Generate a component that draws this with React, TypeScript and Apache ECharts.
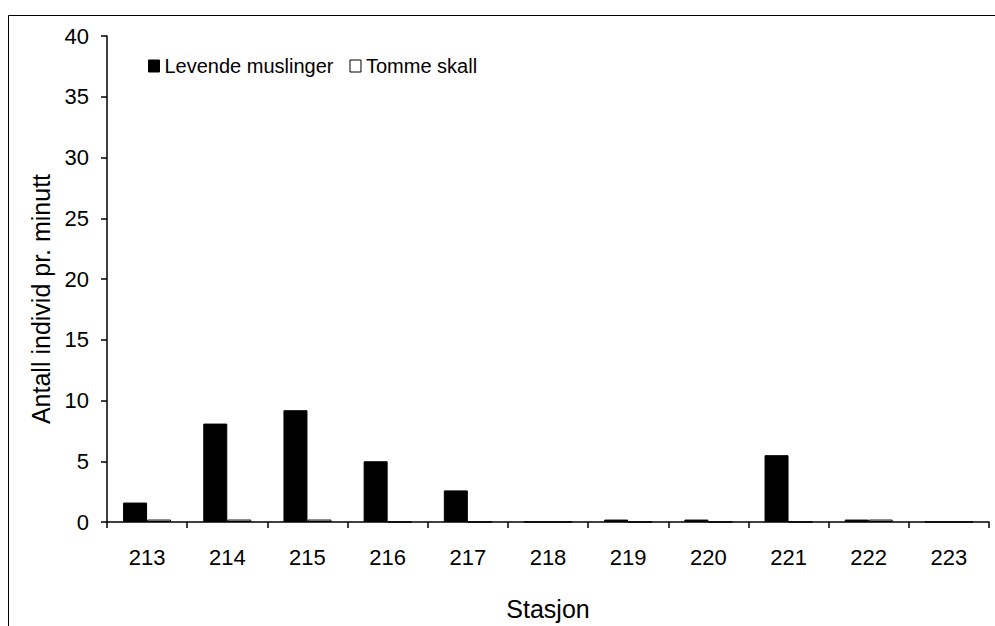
import React, { useEffect, useRef } from "react";
import * as echarts from "echarts";

const categories = ["213", "214", "215", "216", "217", "218", "219", "220", "221", "222", "223"];
const levende = [1.6, 8.1, 9.2, 5.0, 2.6, 0, 0.2, 0.2, 5.5, 0.2, 0];
const tomme = [0.2, 0.2, 0.2, 0, 0, 0, 0, 0, 0, 0.2, 0];
const seriesNames = ["Levende muslinger", "Tomme skall"];
const yAxisName = "Antall individ pr. minutt";
const xAxisName = "Stasjon";

const FONT = "Liberation Sans, Arial, sans-serif";

export default function App() {
  const ref = useRef<HTMLDivElement>(null);
  useEffect(() => {
    if (!ref.current) return;
    const chart = echarts.init(ref.current, undefined, { renderer: "svg" });
    chart.setOption({
      animation: false,
      backgroundColor: "#fff",
      textStyle: { fontFamily: FONT },
      graphic: [
        {
          type: "rect",
          shape: { x: 8.5, y: 15.5, width: 1200, height: 800 },
          style: { fill: "none", stroke: "#000", lineWidth: 1 },
          silent: true,
        },
      ],
      legend: {
        left: 143,
        top: 51,
        itemWidth: 11,
        itemHeight: 12,
        itemGap: 16,
        textStyle: { fontFamily: FONT, fontSize: 20, color: "#000" },
        data: [
          { name: seriesNames[0], icon: "rect", itemStyle: { color: "#000", borderColor: "#000", borderWidth: 1 } },
          { name: seriesNames[1], icon: "rect", itemStyle: { color: "#fff", borderColor: "#000", borderWidth: 1 } },
        ],
      },
      grid: { left: 107, right: 6, top: 36, bottom: 104, containLabel: false },
      xAxis: {
        type: "category",
        data: categories,
        name: xAxisName,
        nameLocation: "middle",
        nameGap: 74,
        nameTextStyle: { fontFamily: FONT, fontSize: 25, color: "#000" },
        axisLine: { lineStyle: { color: "#000", width: 1.5 } },
        axisTick: { show: true, length: 6, lineStyle: { color: "#000", width: 1.5 } },
        axisLabel: { fontFamily: FONT, fontSize: 22, color: "#000", margin: 24 },
        splitLine: { show: false },
      },
      yAxis: {
        type: "value",
        min: 0,
        max: 40,
        interval: 5,
        name: yAxisName,
        nameLocation: "middle",
        nameGap: 52,
        nameRotate: 90,
        nameTextStyle: { fontFamily: FONT, fontSize: 25, color: "#000", padding: [0, 40, 0, 0] },
        axisLine: { show: true, lineStyle: { color: "#000", width: 1.5 } },
        axisTick: { show: true, length: 6, lineStyle: { color: "#000", width: 1.5 } },
        axisLabel: { fontFamily: FONT, fontSize: 22, color: "#000", margin: 18 },
        splitLine: { show: false },
      },
      series: [
        {
          name: seriesNames[0],
          type: "bar",
          data: levende,
          barWidth: 24,
          barGap: "0%",
          itemStyle: { color: "#000", borderColor: "#000", borderWidth: 1 },
        },
        {
          name: seriesNames[1],
          type: "bar",
          data: tomme,
          barWidth: 24,
          barGap: "0%",
          itemStyle: { color: "#fff", borderColor: "#000", borderWidth: 1 },
        },
      ],
    });
    return () => chart.dispose();
  }, []);
  return (
    <div
      ref={ref}
      style={{ position: "absolute", left: 0, top: 0, width: 995, height: 626 }}
    />
  );
}
